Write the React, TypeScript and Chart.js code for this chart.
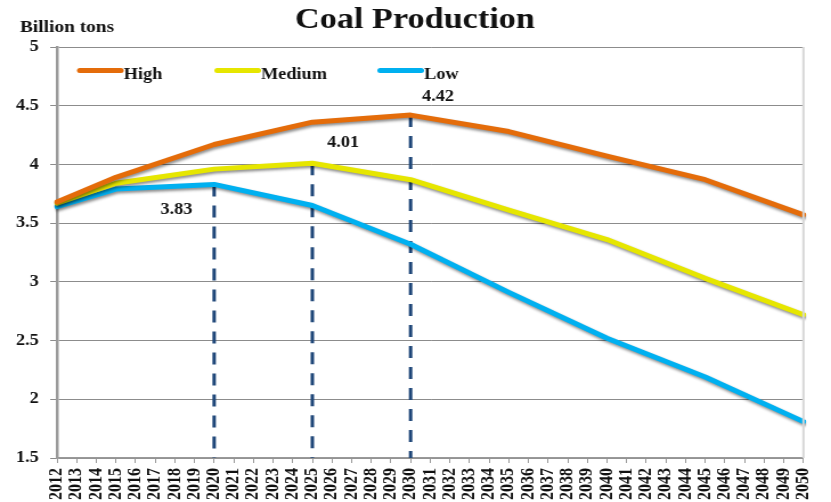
import React, { useEffect, useRef } from "react";
import { Chart, registerables } from "chart.js";

Chart.register(...registerables);

// Years on the category axis
const years: string[] = [];
for (let y = 2012; y <= 2050; y++) years.push(String(y));

// Projection milestones (billion tons); straight segments between them
const milestoneYears = [2012, 2015, 2020, 2025, 2030, 2035, 2040, 2045, 2050];
const highValues = [3.68, 3.89, 4.17, 4.36, 4.42, 4.28, 4.07, 3.87, 3.57];
const mediumValues = [3.67, 3.84, 3.96, 4.01, 3.87, 3.61, 3.36, 3.03, 2.72];
const lowValues = [3.64, 3.79, 3.83, 3.65, 3.32, 2.91, 2.52, 2.19, 1.81];

// Peak markers: dashed drop lines with their value labels
const peakYears = ["2020", "2025", "2030"];
const peakValues = [3.83, 4.01, 4.42];

const seriesNames = ["High", "Medium", "Low"];
const seriesColors = ["#E46C0A", "#E6E600", "#00B0F0"];

const yTicks = [1.5, 2, 2.5, 3, 3.5, 4, 4.5, 5];

const SERIF = "'Liberation Serif', 'Times New Roman', serif";
const LOGICAL_W = 729;
const H = 502;

function expand(values: number[]): (number | null)[] {
  return years.map((y) => {
    const i = milestoneYears.indexOf(Number(y));
    return i >= 0 ? values[i] : null;
  });
}

const decorations = {
  id: "decorations",
  beforeDatasetsDraw(chart: any) {
    const { ctx, scales } = chart;
    const x = scales.x;
    const y = scales.y;
    ctx.save();
    ctx.strokeStyle = "#1E4678";
    ctx.lineWidth = 3;
    ctx.setLineDash([12, 9]);
    peakYears.forEach((yr, i) => {
      const px = x.getPixelForValue(years.indexOf(yr));
      ctx.beginPath();
      ctx.moveTo(px, y.getPixelForValue(peakValues[i]));
      ctx.lineTo(px, y.getPixelForValue(1.5));
      ctx.stroke();
    });
    ctx.restore();
    // soft drop shadow under the series lines
    ctx.save();
    ctx.shadowColor = "rgba(0,0,0,0.45)";
    ctx.shadowBlur = 3;
    ctx.shadowOffsetX = 1;
    ctx.shadowOffsetY = 2;
  },
  afterDatasetsDraw(chart: any) {
    chart.ctx.restore();
  },
  afterDraw(chart: any) {
    const { ctx, chartArea, scales } = chart;
    const x = scales.x;
    const y = scales.y;
    ctx.save();

    // right edge of the plot frame
    ctx.strokeStyle = "#d6d6d6";
    ctx.lineWidth = 2;
    ctx.beginPath();
    ctx.moveTo(chartArea.right, chartArea.top);
    ctx.lineTo(chartArea.right, chartArea.bottom);
    ctx.stroke();

    ctx.fillStyle = "#111";
    ctx.textBaseline = "alphabetic";

    // title
    ctx.font = `bold 30px ${SERIF}`;
    ctx.textAlign = "center";
    ctx.fillText("Coal Production", 364, 28);

    // unit label
    ctx.font = `bold 17px ${SERIF}`;
    ctx.textAlign = "left";
    ctx.fillText("Billion tons", 17.5, 32);

    // legend inside the plot
    const legendX = [70, 190.5, 333.5];
    ctx.font = `bold 16px ${SERIF}`;
    seriesNames.forEach((name, i) => {
      ctx.strokeStyle = seriesColors[i];
      ctx.lineWidth = 5;
      ctx.lineCap = "round";
      ctx.beginPath();
      ctx.moveTo(legendX[i], 70.5);
      ctx.lineTo(legendX[i] + 36, 70.5);
      ctx.stroke();
      ctx.fillStyle = "#111";
      ctx.fillText(name, legendX[i] + 38.5, 79);
    });

    // peak value labels
    const offsets = [
      [-33, 25],
      [27, -20],
      [24, -18],
    ];
    ctx.font = `bold 16px ${SERIF}`;
    ctx.textAlign = "center";
    ctx.textBaseline = "middle";
    peakYears.forEach((yr, i) => {
      const px = x.getPixelForValue(years.indexOf(yr));
      const py = y.getPixelForValue(peakValues[i]);
      ctx.fillText(peakValues[i].toFixed(2), px + offsets[i][0], py + offsets[i][1]);
    });
    ctx.restore();
  },
};

export default function App() {
  const canvasRef = useRef<HTMLCanvasElement | null>(null);

  useEffect(() => {
    const canvas = canvasRef.current;
    if (!canvas) return;
    const chart = new Chart(canvas, {
      type: "line",
      data: {
        labels: years,
        datasets: [highValues, mediumValues, lowValues].map((vals, i) => ({
          label: seriesNames[i],
          data: expand(vals),
          borderColor: seriesColors[i],
          backgroundColor: seriesColors[i],
          borderWidth: 5,
          pointRadius: 0,
          pointHoverRadius: 0,
          tension: 0,
          spanGaps: true,
          borderJoinStyle: "round" as const,
          borderCapStyle: "round" as const,
        })),
      },
      options: {
        responsive: false,
        animation: false,
        devicePixelRatio: 1,
        events: [],
        layout: { padding: { left: 0, right: 16.7, top: 47, bottom: 0 } },
        plugins: {
          legend: { display: false },
          title: { display: false },
          tooltip: { enabled: false },
        },
        scales: {
          x: {
            type: "category",
            offset: false,
            afterFit: (scale: any) => {
              scale.height = 44;
            },
            grid: {
              drawOnChartArea: false,
              drawTicks: true,
              tickLength: 5,
              color: "#999",
              lineWidth: 1,
            },
            border: { display: true, color: "#999", width: 1.5 },
            ticks: {
              autoSkip: false,
              maxRotation: 90,
              minRotation: 90,
              padding: 5,
              color: "#111",
              font: { family: SERIF, size: 16, weight: "bold" },
            },
          },
          y: {
            min: 1.5,
            max: 5,
            afterFit: (scale: any) => {
              scale.width = 50;
            },
            afterBuildTicks: (scale: any) => {
              scale.ticks = yTicks.map((v) => ({ value: v }));
            },
            grid: {
              color: "#8c8c8c",
              lineWidth: 1,
              drawTicks: true,
              tickLength: 6,
            },
            border: { display: true, color: "#9a9a9a", width: 2.5 },
            ticks: {
              padding: 10,
              color: "#111",
              font: { family: SERIF, size: 16, weight: "bold" },
              callback: (v: any) => String(v),
            },
          },
        },
      },
      plugins: [decorations],
    });
    return () => chart.destroy();
  }, []);

  return (
    <div style={{ position: "absolute", left: 0, top: 0, width: 831, height: H, background: "#fff" }}>
      <canvas
        ref={canvasRef}
        width={LOGICAL_W}
        height={H}
        style={{ width: "831px", height: `${H}px`, display: "block" }}
      />
    </div>
  );
}
